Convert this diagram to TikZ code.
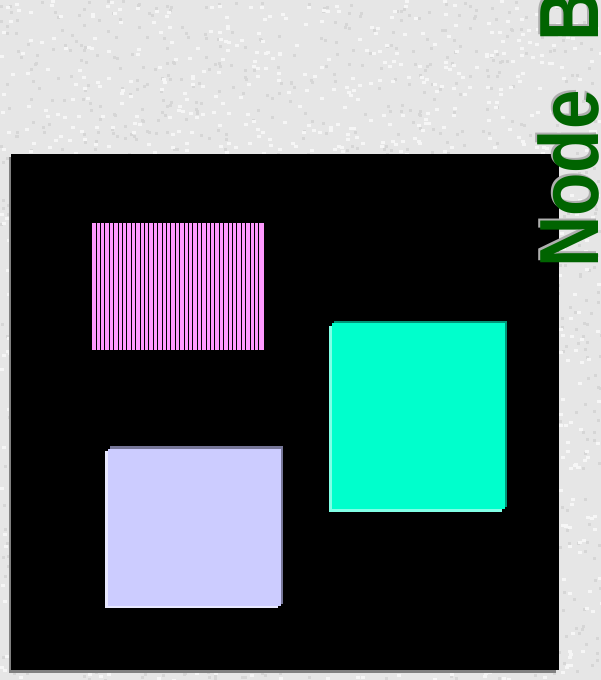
\documentclass[tikz,border=0pt]{standalone}
\usepackage{fontspec}
\setmainfont{Liberation Sans}
\definecolor{paper}{RGB}{230,230,230}
\definecolor{paperdark}{RGB}{214,214,214}
\definecolor{paperlight}{RGB}{246,246,246}
\definecolor{boardedge}{RGB}{128,128,128}
\definecolor{hatchpink}{RGB}{255,153,255}
\definecolor{aqua}{RGB}{0,255,204}
\definecolor{aquadark}{RGB}{0,150,120}
\definecolor{aqualight}{RGB}{128,255,230}
\definecolor{lavender}{RGB}{204,204,255}
\definecolor{lavdark}{RGB}{119,119,153}
\definecolor{lavlight}{RGB}{232,232,255}
\definecolor{nodegreen}{RGB}{0,100,0}
\definecolor{shadowgray}{RGB}{175,175,175}
\begin{document}
\begin{tikzpicture}[
  x=1pt, y=-1pt,
  label/.style={rotate=90, anchor=base west, inner sep=0pt,
    font=\fontsize{84}{84}\selectfont\bfseries},
  hatch/.style={black, line width=1pt}
]
\useasboundingbox (0,0) rectangle (601,680);
\clip (0,0) rectangle (601,680);

% ---- marble paper ----
\fill[paper] (0,0) rectangle (601,680);
\pgfmathsetseed{7}
\foreach \i in {1,...,1600}
{
  \pgfmathsetmacro\px{random(0,600)}
  \pgfmathsetmacro\py{random(0,679)}
  \fill[paperdark] (\px,\py) rectangle ++(3,3);
}
\foreach \i in {1,...,1600}
{
  \pgfmathsetmacro\px{random(0,600)}
  \pgfmathsetmacro\py{random(0,679)}
  \fill[paperlight] (\px,\py) rectangle ++(4,3);
}

% ---- black board ----
\fill[boardedge] (9,157) rectangle (556,673);
\fill[black] (11,154) rectangle (559,670);

% ---- hatched pink block ----
\fill[hatchpink] (92,222.5) rectangle (264,350);
\foreach \k in {0,...,37}
  \draw[hatch] (96+4.405*\k,222.5) -- (96+4.405*\k,350);

% ---- aqua block ----
\fill[aquadark] (334,321) rectangle (507,507);
\fill[aqualight] (329,326) rectangle (502,512);
\fill[aqua] (332,323) rectangle (505,509);

% ---- lavender block ----
\fill[lavdark] (110,446) rectangle (283,604);
\fill[lavlight] (105,451) rectangle (278,608);
\fill[lavender] (108,449) rectangle (281,606);

% ---- title ----
\node[label, text=shadowgray] (nodeBshadow) at (596,266)
  {\scalebox{0.845}[1]{Node~\hspace{0.41em}B}};
\node[label, text=nodegreen] (nodeB) at (598,268)
  {\scalebox{0.845}[1]{Node~\hspace{0.41em}B}};
\end{tikzpicture}
\end{document}
